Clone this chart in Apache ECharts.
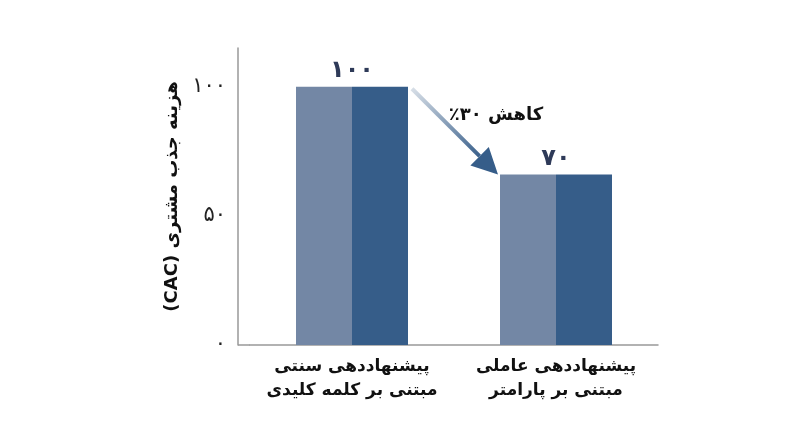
<!DOCTYPE html>
<html>
<head>
<meta charset="utf-8">
<script src="https://cdn.jsdelivr.net/npm/echarts@6/dist/echarts.min.js"></script>
<style>
  html, body { margin: 0; padding: 0; background: #fff; }
  #main { width: 800px; height: 447px; }
</style>
</head>
<body>
<div id="main" dir="rtl"></div>
<script>
// data
const categories = ['پیشنهاددهی سنتی\nمبتنی بر کلمه کلیدی', 'پیشنهاددهی عاملی\nمبتنی بر پارامتر'];
const costValues = [100, 66];          // bar heights as drawn
const valueLabels = ['۱۰۰', '۷۰'];     // printed above the bars
const yAxisName = 'هزینه جذب مشتری (CAC)';
const reductionText = 'کاهش ۳۰٪';

const FONT = 'DejaVu Sans';
const BAR_W = 56;
const Y_OFFSET = 12;

// persian digits
function fa(n) {
  return String(n).replace(/\d/g, d => '۰۱۲۳۴۵۶۷۸۹'[d]);
}

const chart = echarts.init(document.getElementById('main'));

let option = {
  animation: false,
  grid: { left: 250, right: 142, top: 48, bottom: 102 },
  xAxis: {
    type: 'category',
    data: categories,
    axisLine: { lineStyle: { color: '#999', width: 1.5 } },
    axisTick: { show: false },
    axisLabel: {
      interval: 0,
      color: '#111', fontFamily: FONT, fontSize: 17, fontWeight: 'bold',
      lineHeight: 24, margin: 10
    }
  },
  yAxis: {
    type: 'value',
    min: 0, max: 115, interval: 50,
    offset: Y_OFFSET,
    name: yAxisName,
    nameLocation: 'middle',
    nameGap: 56,
    nameRotate: 90,
    nameTextStyle: { color: '#111', fontFamily: FONT, fontSize: 18, fontWeight: 'bold' },
    axisLine: { show: true, lineStyle: { color: '#999', width: 1.5 } },
    axisTick: { show: false },
    splitLine: { show: false },
    axisLabel: {
      color: '#222', fontFamily: FONT, fontSize: 21, margin: 12,
      formatter: v => (v % 50 === 0 ? fa(v) : '')
    }
  },
  series: [
    {
      name: 'left',
      type: 'bar',
      data: costValues,
      barWidth: BAR_W,
      barGap: '0%',
      itemStyle: { color: '#7387a5' },
      label: {
        show: true, position: 'top', offset: [BAR_W / 2, 1],
        color: '#2e3a58', fontFamily: FONT, fontSize: 24, fontWeight: 'bold',
        formatter: p => valueLabels[p.dataIndex]
      }
    },
    {
      name: 'right',
      type: 'bar',
      data: costValues,
      barWidth: BAR_W,
      barGap: '0%',
      itemStyle: { color: '#365d89' }
    }
  ]
};
chart.setOption(option);

// arrow between the two bar tops, placed through the chart's own scales
const p1 = chart.convertToPixel({ seriesIndex: 0 }, [0, costValues[0]]);
const p2 = chart.convertToPixel({ seriesIndex: 0 }, [1, costValues[1]]);
const sx = p1[0] + BAR_W + 4, sy = p1[1] + 2;
const ex = p2[0] - BAR_W - 2, ey = p2[1];
const ang = Math.atan2(ey - sy, ex - sx);
const headLen = 26, headW = 13;
const bx = ex - headLen * Math.cos(ang), by = ey - headLen * Math.sin(ang);
const nx = -Math.sin(ang), ny = Math.cos(ang);
const txtPos = chart.convertToPixel({ seriesIndex: 0 }, [1, 89]);

// x axis line runs back to the offset y axis
const gridRect = chart.getModel().getComponent('grid').coordinateSystem.getRect();
const y0 = chart.convertToPixel({ yAxisIndex: 0 }, 0);

chart.setOption({
  graphic: [
    {
      type: 'line',
      shape: { x1: gridRect.x - Y_OFFSET, y1: y0, x2: gridRect.x, y2: y0 },
      style: { stroke: '#999', lineWidth: 1.5 }
    },
    {
      type: 'line',
      shape: { x1: sx, y1: sy, x2: bx, y2: by },
      style: {
        lineWidth: 4,
        stroke: new echarts.graphic.LinearGradient(0, 0, 1, 1, [
          { offset: 0, color: '#dde3ea' },
          { offset: 1, color: '#365d89' }
        ])
      }
    },
    {
      type: 'polygon',
      shape: {
        points: [
          [ex, ey],
          [bx + nx * headW, by + ny * headW],
          [bx - nx * headW, by - ny * headW]
        ]
      },
      style: { fill: '#365d89' }
    },
    {
      type: 'text',
      x: txtPos[0] - BAR_W - 4,
      y: txtPos[1],
      style: {
        text: reductionText,
        fill: '#111',
        font: 'bold 18px "DejaVu Sans"',
        align: 'center',
        verticalAlign: 'middle'
      }
    }
  ]
});
</script>
</body>
</html>
